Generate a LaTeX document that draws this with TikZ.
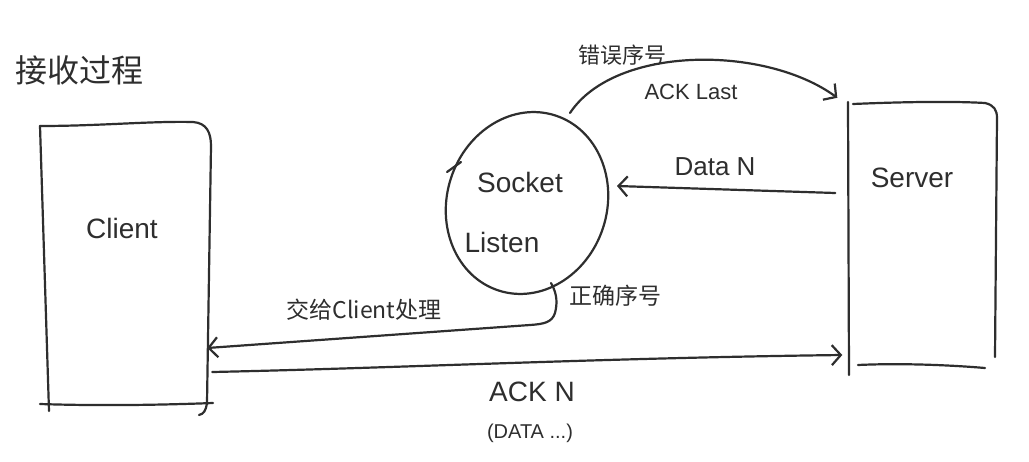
\documentclass[tikz,border=0pt]{standalone}
\usepackage{fontspec}
\setmainfont{Liberation Sans}
\newfontfamily\cjk{Noto Sans CJK SC}
\usetikzlibrary{arrows.meta,calc,shapes.geometric}
\definecolor{ink}{HTML}{2E2E2E}
\begin{document}
\begin{tikzpicture}[x=1pt,y=-1pt,
  ink/.style={draw=ink,line width=2.2pt,line cap=round,line join=round},
  arr/.style={ink,-{Straight Barb[length=9pt,width=20pt,line width=2.2pt]}},
  lbl/.style={text=ink,inner sep=0pt},
  box/.style={rectangle,inner sep=0pt}]
\useasboundingbox (0,0) rectangle (1029,461);
\fill[white] (0,0) rectangle (1029,461);

% title
\node[lbl,font=\cjk\fontsize{32}{35}\selectfont] (title) at (80,70) {接收过程};

% Client box
\node[box,minimum width=170pt,minimum height=280pt] (client) at (125,265) {};
\draw[ink] (40,126) -- (49,411);
\draw[ink] (40,126) .. controls (100,126) and (150,121) .. (193,122) .. controls (207,123) and (211,133) .. (211,146) -- (207,403) .. controls (206,410) and (204,414) .. (199,415);
\draw[ink] (40,404) .. controls (100,406) and (160,405) .. (213,403);
\node[lbl,font=\fontsize{28}{30}\selectfont] (clientlbl) at (122,228) {Client};

% Server box
\node[box,minimum width=149pt,minimum height=268pt] (server) at (922,236) {};
\draw[ink] (848,102) -- (849,375);
\draw[ink] (853,104) .. controls (900,102) and (950,101) .. (985,103) .. controls (994,105) and (997,110) .. (997,118) -- (995,357);
\draw[ink] (858,365) .. controls (900,363) and (950,365) .. (985,368);
\node[lbl,font=\fontsize{28}{30}\selectfont] (serverlbl) at (912,178) {Server};

% Socket Listen ellipse
\node[ellipse,draw=ink,line width=2.2pt,minimum width=160pt,minimum height=184pt,rotate=-18] (socket) at (527,203) {};
\draw[ink] (447,172) -- (461,162);
\node[lbl,font=\fontsize{28}{30}\selectfont] (socketlbl) at (520,182) {Socket};
\node[lbl,font=\fontsize{28}{30}\selectfont] (listenlbl) at (502,242) {Listen};

% error seq arc
\draw[arr] (570,113) .. controls (615,45) and (765,45) .. ($(server.north west)+(-10,-4)$);
\node[lbl,font=\cjk\fontsize{22}{24}\selectfont] (errlbl) at (622,55) {错误序号};
\node[lbl,font=\fontsize{22}{24}\selectfont] (acklast) at (691,92) {ACK Last};

% Data N
\draw[arr] ($(server.west)+(-12,-43)$) -- (617,186);
\node[lbl,font=\fontsize{26}{28}\selectfont] (datan) at (715,167) {Data N};

% correct seq -> Client
\draw[arr] (551,283) .. controls (558,295) and (557,305) .. (555,313) .. controls (552,322) and (545,324) .. (530,325) -- ($(client.east)+(-3,83)$);
\node[lbl,font=\cjk\fontsize{23}{25}\selectfont] (oklbl) at (615,296) {正确序号};
\node[lbl,font=\cjk\fontsize{23}{25}\selectfont] (handlbl) at (364,310) {交给Client处理};

% ACK N
\draw[arr] ($(client.east)+(2,107)$) .. controls (400,368) and (600,358) .. ($(server.west)+(-5,119)$);
\node[lbl,font=\fontsize{28}{30}\selectfont] (ackn) at (532,392) {ACK N};
\node[lbl,font=\fontsize{20}{22}\selectfont] (datadots) at (530,433) {(DATA ...)};
\end{tikzpicture}
\end{document}
